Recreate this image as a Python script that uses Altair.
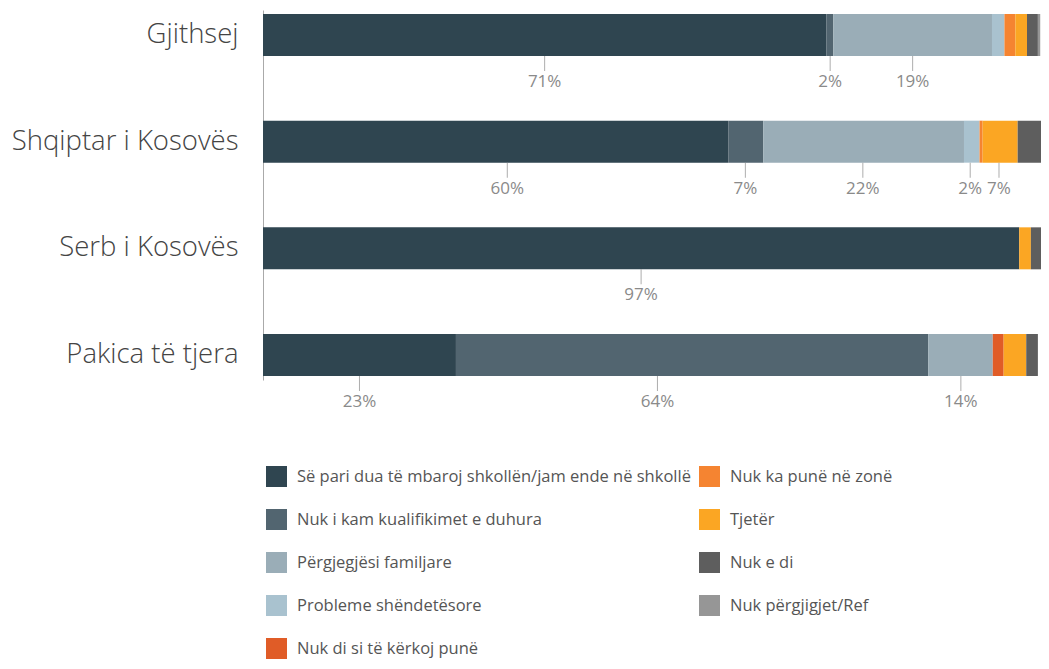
import altair as alt
import pandas as pd

groups = ["Gjithsej", "Shqiptar i Kosovës", "Serb i Kosovës", "Pakica të tjera"]
categories = [
    "Së pari dua të mbaroj shkollën/jam ende në shkollë",
    "Nuk i kam kualifikimet e duhura",
    "Përgjegjësi familjare",
    "Probleme shëndetësore",
    "Nuk di si të kërkoj punë",
    "Nuk ka punë në zonë",
    "Tjetër",
    "Nuk e di",
    "Nuk përgjigjet/Ref",
]
colors = ["#2f4550", "#526570", "#9aadb7", "#a9c2cf", "#e05c27",
          "#f58431", "#fba623", "#5e5e5e", "#969696"]

# bar segment sizes (%) per group, in category order
gjithsej = [72.4, 0.9, 20.4, 1.6, 0.0, 1.4, 1.5, 1.4, 0.3]
shqiptar = [59.8, 4.5, 25.8, 2.0, 0.0, 0.4, 4.5, 3.0, 0.0]
serb = [97.2, 0.0, 0.0, 0.0, 0.0, 0.0, 1.5, 1.3, 0.0]
pakica = [24.8, 60.7, 8.3, 0.0, 1.4, 0.0, 2.9, 1.5, 0.0]

# printed labels and where they sit (% of the bar)
label_group = ["Gjithsej", "Gjithsej", "Gjithsej",
               "Shqiptar i Kosovës", "Shqiptar i Kosovës", "Shqiptar i Kosovës",
               "Shqiptar i Kosovës", "Shqiptar i Kosovës",
               "Serb i Kosovës",
               "Pakica të tjera", "Pakica të tjera", "Pakica të tjera"]
label_text = ["71%", "2%", "19%", "60%", "7%", "22%", "2%", "7%", "97%", "23%", "64%", "14%"]
label_pos = [36.2, 72.9, 83.5, 31.4, 62.0, 77.1, 90.9, 94.6, 48.6, 12.4, 50.7, 89.7]

rows = []
for g, vals in zip(groups, [gjithsej, shqiptar, serb, pakica]):
    for i, (c, v) in enumerate(zip(categories, vals)):
        if v > 0:
            rows.append({"group": g, "cat": c, "idx": i, "value": v})
bars_df = pd.DataFrame(rows)
labels_df = pd.DataFrame({"group": label_group, "text": label_text, "pos": label_pos})

FONT = "Open Sans"

yenc = alt.Y("group:N", sort=groups, title=None,
             scale=alt.Scale(paddingInner=0.606, paddingOuter=0.0375),
             axis=alt.Axis(labelFontSize=27.5, labelColor="#444444", labelFont=FONT,
                           ticks=False, labelPadding=25, domainColor="#aaaaaa",
                           domainWidth=1, labelFontWeight=300, labelLimit=400))

xscale = alt.Scale(domain=[0, 100], nice=False, zero=True)

bars = alt.Chart(bars_df).mark_bar(size=42).encode(
    x=alt.X("value:Q", stack="zero", scale=xscale, axis=None),
    y=yenc,
    color=alt.Color("cat:N", scale=alt.Scale(domain=categories, range=colors),
                    legend=alt.Legend(title=None, orient="none", legendX=3, legendY=456,
                                      columns=2, symbolType="square", symbolSize=441,
                                      symbolStrokeWidth=0, labelFontSize=16.5,
                                      labelColor="#555555", labelFont=FONT,
                                      labelOffset=10, rowPadding=22, columnPadding=8,
                                      labelLimit=500, padding=0)),
    order=alt.Order("idx:Q", sort="ascending"),
)

ticks = alt.Chart(labels_df).mark_tick(size=15, thickness=1, yOffset=28.5,
                                       color="#8a8a8a", orient="vertical").encode(
    x=alt.X("pos:Q", scale=xscale),
    y=alt.Y("group:N", sort=groups),
)

texts = alt.Chart(labels_df).mark_text(dy=47, fontSize=17, color="#8a8a8a",
                                       font=FONT, baseline="middle").encode(
    x=alt.X("pos:Q", scale=xscale),
    y=alt.Y("group:N", sort=groups),
    text="text:N",
)

chart = alt.layer(bars, ticks, texts).properties(
    width=778, height=370,
    autosize=alt.AutoSizeParams(type="none"),
    padding={"left": 255, "top": 2, "right": 0, "bottom": 281},
).configure_view(stroke=None)

chart.save("out.html", embed_options={"renderer": "svg", "actions": False})
